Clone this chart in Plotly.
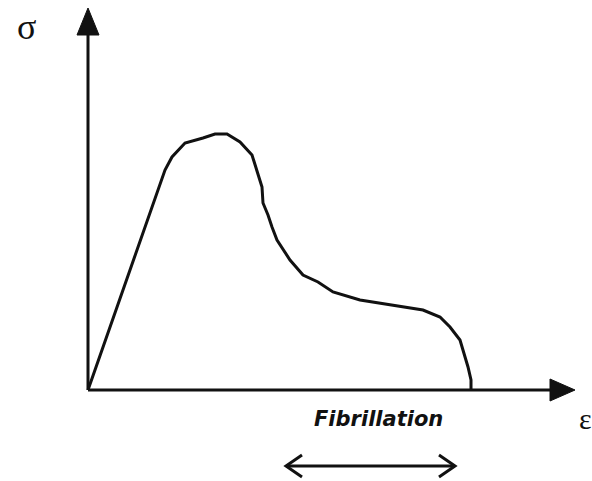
import plotly.graph_objects as go

# Schematic stress-strain curve (units: arbitrary, origin at axes crossing)
strain = [0, 77, 84, 97, 115, 127, 139, 152, 164, 169, 174, 175, 180, 184, 189,
          202, 215, 230, 245, 272, 305, 335, 352, 362, 372, 380, 383, 383]
stress = [0, 220, 233, 247, 252, 256, 256, 248, 235, 220, 203, 187, 175, 163, 150,
          130, 115, 108, 98, 90, 85, 80, 73, 63, 50, 23, 10, 0]

y_label = "σ"
x_label = "ε"
region_label = "Fibrillation"
fib_start, fib_end = 198, 367

X0, X1 = -88, 504
Y0, Y1 = -91, 390
C = "#111111"

fig = go.Figure()
fig.add_trace(go.Scatter(x=strain, y=stress, mode="lines",
                         line=dict(color=C, width=3), hoverinfo="skip",
                         showlegend=False))

shapes = []
# y axis
shapes.append(dict(type="line", xref="x", yref="y", x0=0, y0=0, x1=0, y1=360,
                   line=dict(color=C, width=3)))
shapes.append(dict(type="path", xref="x", yref="y",
                   path="M -11,355 L 11,355 L 0,382 Z", fillcolor=C,
                   line=dict(color=C, width=1)))
# x axis
shapes.append(dict(type="line", xref="x", yref="y", x0=0, y0=0, x1=465, y1=0,
                   line=dict(color=C, width=3)))
shapes.append(dict(type="path", xref="x", yref="y",
                   path="M 462,11 L 462,-11 L 487,0 Z", fillcolor=C,
                   line=dict(color=C, width=1)))
# fibrillation double arrow
ya = -76
shapes.append(dict(type="line", xref="x", yref="y", x0=fib_start, y0=ya,
                   x1=fib_end, y1=ya, line=dict(color=C, width=3)))
shapes.append(dict(type="path", xref="x", yref="y",
                   path=f"M {fib_start+16},{ya+11} L {fib_start},{ya} L {fib_start+16},{ya-11}",
                   line=dict(color=C, width=3)))
shapes.append(dict(type="path", xref="x", yref="y",
                   path=f"M {fib_end-16},{ya+11} L {fib_end},{ya} L {fib_end-16},{ya-11}",
                   line=dict(color=C, width=3)))

annotations = [
    dict(x=-62, y=363, xref="x", yref="y", text=y_label, showarrow=False,
         font=dict(family="Liberation Serif", size=36, color=C)),
    dict(x=497, y=-28, xref="x", yref="y", text=x_label, showarrow=False,
         font=dict(family="Liberation Serif", size=30, color=C)),
    dict(x=290, y=-29, xref="x", yref="y",
         text=f"<b><i>{region_label}</i></b>", showarrow=False,
         font=dict(family="DejaVu Sans", size=21, color=C)),
]

fig.update_layout(
    width=592, height=481,
    margin=dict(l=0, r=0, t=0, b=0),
    paper_bgcolor="white", plot_bgcolor="white",
    xaxis=dict(range=[X0, X1], visible=False, fixedrange=True),
    yaxis=dict(range=[Y0, Y1], visible=False, fixedrange=True),
    shapes=shapes, annotations=annotations,
)

fig.write_html("out.html", config={"displayModeBar": False},
               post_script="document.body.style.margin='0';document.body.style.overflow='hidden';")
